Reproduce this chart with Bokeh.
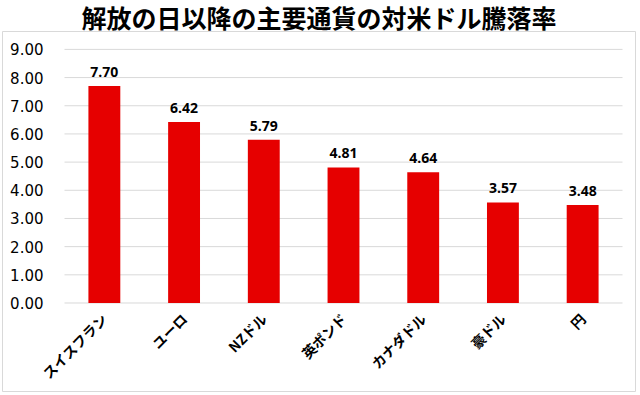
from bokeh.plotting import figure
from bokeh.models import ColumnDataSource, Range1d, Title
from bokeh.core.properties import value
from bokeh.embed import file_html
from bokeh.resources import INLINE
import math

categories = ["スイスフラン", "ユーロ", "NZドル", "英ポンド", "カナダドル", "豪ドル", "円"]
values = [7.70, 6.42, 5.79, 4.81, 4.64, 3.57, 3.48]
labels = ["7.70", "6.42", "5.79", "4.81", "4.64", "3.57", "3.48"]
y_ticks = [0, 1, 2, 3, 4, 5, 6, 7, 8, 9]
y_tick_labels = ["0.00", "1.00", "2.00", "3.00", "4.00", "5.00", "6.00", "7.00", "8.00", "9.00"]
title_text = "解放の日以降の主要通貨の対米ドル騰落率"

# layout (pixels): outer chart box and plot area inside it
W, H = 640, 395
box_l, box_r, box_t, box_b = 2, 635, 29, 391
plot_l, plot_r, y0_px, y9_px = 64, 622, 302, 47

n = len(categories)
xpos = list(range(n))
step = (plot_r - plot_l) / n
c0 = plot_l + step / 2
ppu = (y0_px - y9_px) / (y_ticks[-1] - y_ticks[0])
x_start = (box_l - c0) / step
x_end = (box_r - c0) / step
y_end = y_ticks[-1] + (y9_px - box_t) / ppu
y_start = -(box_b - y0_px) / ppu

src = ColumnDataSource(dict(x=xpos, base=[0] * n, cat=categories, val=values, lab=labels))

p = figure(width=W, height=H, x_range=Range1d(x_start, x_end), y_range=Range1d(y_start, y_end),
           output_backend="svg", toolbar_location=None,
           x_axis_location=None, y_axis_location=None,
           min_border_left=box_l, min_border_right=W - box_r,
           min_border_top=box_t, min_border_bottom=H - box_b)

p.title = Title(text=title_text, align="center", text_font_size="25px",
                text_font="Noto Sans CJK JP", text_font_style="bold", text_color="#000000",
                standoff=-7)

p.outline_line_color = "#d9d9d9"
p.outline_line_width = 1
p.grid.visible = False

# gridlines
p.segment(x0=[-0.5] * len(y_ticks), x1=[n - 0.5] * len(y_ticks), y0=y_ticks, y1=y_ticks,
          line_color="#d9d9d9", line_width=1)

p.vbar(x="x", top="val", width=0.4, source=src, color="#e60000", line_color=None)

# value labels
p.text(x="x", y="val", text="lab", source=src, text_align="center", text_baseline="bottom",
       y_offset=-9, text_font_size="14px", text_font_style="bold",
       text_font=value("Open Sans"), text_color="#000000")

# y tick labels
p.text(x=[-0.5] * len(y_ticks), y=y_ticks, text=y_tick_labels, x_offset=-21,
       text_align="right", text_baseline="middle", text_font_size="15px",
       text_font=value("DejaVu Sans"), text_color="#000000")

# category labels
p.text(x="x", y="base", text="cat", source=src, angle=math.pi / 4,
       x_offset=0, y_offset=13, text_align="right", text_baseline="middle",
       text_font_size="14px", text_font_style="bold",
       text_font=value("Noto Sans CJK JP"), text_color="#000000")

open("out.html", "w").write(file_html(p, INLINE))
